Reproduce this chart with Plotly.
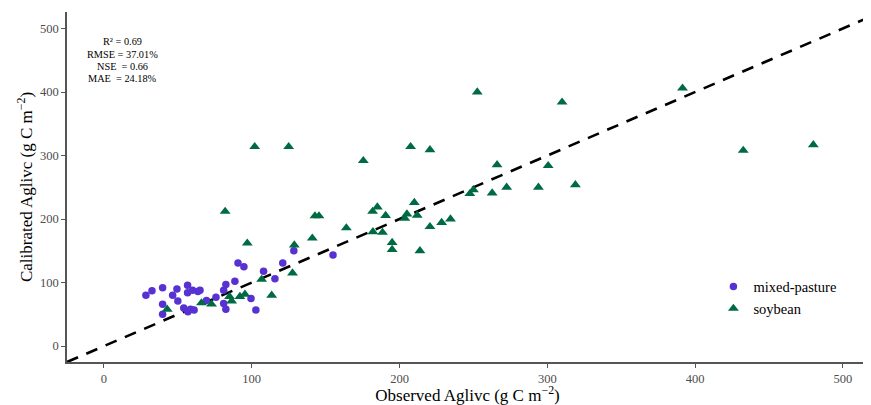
import plotly.graph_objects as go

# Mixed-pasture (observed, calibrated)
mp_obs = [28.4, 32.5, 39.7, 39.7, 39.7, 46.5, 49.4, 50, 56.6, 56.6, 54, 56.8, 58.6, 61,
          60, 63.6, 65, 69.4, 75.8, 81, 82.5, 81, 82.5, 88.6, 90.7, 94.7, 99.5, 102.8,
          108, 115.7, 121, 128.5, 155]
mp_cal = [80, 87, 92, 66, 50, 80, 90, 71, 96, 84, 60, 54, 58, 57,
          88, 86, 88, 72, 77, 88, 97, 67, 58, 102, 131, 125, 75, 57,
          118, 106, 131, 150, 143.5]

# Soybean (observed, calibrated)
sb_obs = [42.8, 66, 72.8, 85, 86.4, 92, 95.4, 97, 106.7, 113.5, 127.6, 128.8, 82, 102,
          125, 141, 142.8, 145.5, 164, 175.5, 181.8, 182, 185, 188.5, 190.6, 195, 195,
          203.6, 205, 207.5, 210, 212, 213.8, 220.6, 220.6, 228.5, 234.5, 247.6, 250,
          252.6, 262.7, 266, 272.5, 294, 300.6, 310, 319, 391.5, 432.6, 480]
sb_cal = [58, 68, 66, 78, 71, 78, 81.5, 162, 105, 80, 115, 159, 212, 314,
          314, 170, 205, 205, 186, 292, 212, 180, 219, 179, 205.5, 163, 152,
          201, 208, 314, 226, 206, 150, 309, 188, 194.5, 200, 240, 246,
          400, 241, 285.5, 250, 250, 284, 384, 254, 406, 308, 317]

x_range = [-25, 517]
y_range = [-25, 526]
tick_vals = [0, 100, 200, 300, 400, 500]
stats_lines = ["R² = 0.69", "RMSE = 37.01%", "NSE  = 0.66", "MAE  = 24.18%"]

font_family = "Liberation Serif"
axis_col = "#555555"

fig = go.Figure()

# 1:1 line
fig.add_trace(go.Scatter(
    x=[x_range[0], x_range[1]], y=[x_range[0], x_range[1]],
    mode="lines", line=dict(color="black", width=2.6, dash="12px,9px"),
    showlegend=False, hoverinfo="skip"))

fig.add_trace(go.Scatter(
    x=mp_obs, y=mp_cal, mode="markers", name="mixed-pasture",
    marker=dict(symbol="circle", size=7.5, color="#5731d1")))
fig.add_trace(go.Scatter(
    x=sb_obs, y=sb_cal, mode="markers", name="soybean",
    marker=dict(symbol="triangle-up", size=9.5, color="#006b43")))

axis_common = dict(
    showgrid=False, zeroline=False, showline=True, linecolor=axis_col, linewidth=1.7,
    ticks="outside", ticklen=4, tickwidth=1.2, tickcolor=axis_col,
    tickfont=dict(family=font_family, size=12.5, color="#4d4d4d"),
    tickvals=tick_vals, mirror=False,
)

# page body has an 8px margin, so figure is sized/offset accordingly
fig.update_layout(
    width=863, height=397,
    margin=dict(l=59, r=3, t=4, b=43),
    plot_bgcolor="white", paper_bgcolor="white",
    font=dict(family=font_family, color="black"),
    xaxis=dict(range=x_range, title=dict(text="Observed Aglivc (g C m<sup>−2</sup>)",
               font=dict(family=font_family, size=17), standoff=3), **axis_common),
    yaxis=dict(range=y_range, title=dict(text="Calibrated Aglivc (g C m<sup>−2</sup>)",
               font=dict(family=font_family, size=17), standoff=3), **axis_common),
    legend=dict(x=0.807, y=0.184, xanchor="left", yanchor="middle",
                font=dict(family=font_family, size=14.5), bgcolor="rgba(0,0,0,0)",
                itemwidth=30, tracegroupgap=4),
)

stats_y = [0.917, 0.88, 0.843, 0.809]
for line, yy in zip(stats_lines, stats_y):
    fig.add_annotation(
        xref="paper", yref="paper", x=0.0687, y=yy, xanchor="center", yanchor="middle",
        text=line, showarrow=False, align="center",
        font=dict(family=font_family, size=10.3, color="black"))

fig.write_html("out.html")
